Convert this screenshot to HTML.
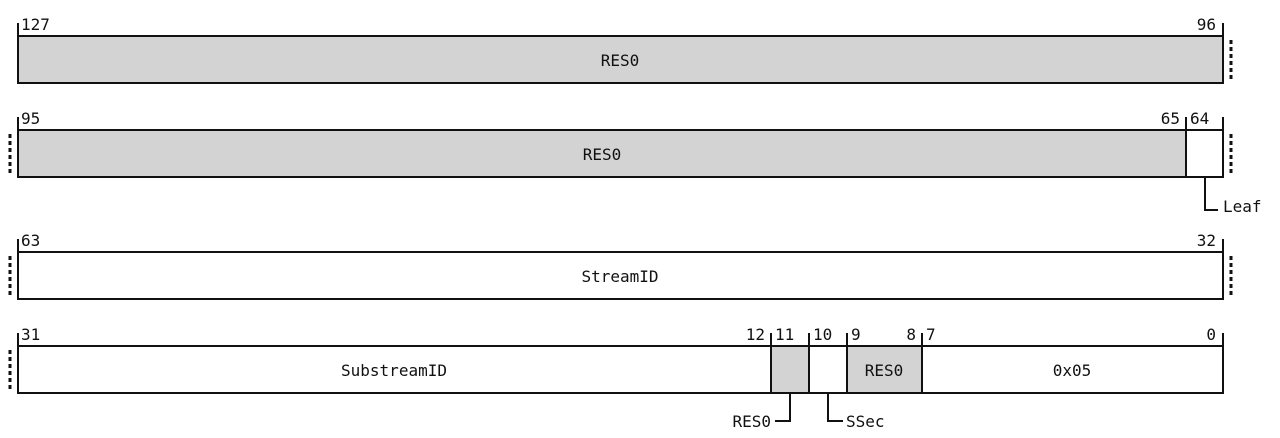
<!DOCTYPE html>
<html><head><meta charset="utf-8"><style>
html,body{margin:0;padding:0;background:#fff;}
svg{display:block;}
text{font-family:"DejaVu Sans Mono","Liberation Mono",monospace;font-size:16px;fill:#111;}
</style></head><body>
<svg width="1280" height="438" viewBox="0 0 1280 438" xmlns="http://www.w3.org/2000/svg">
<g stroke="#111" stroke-width="2" fill="none">
<!-- row1 -->
<rect x="18" y="36" width="1205" height="47" fill="#d3d3d3"/>
<line x1="18" y1="23" x2="18" y2="36"/><line x1="1223" y1="23" x2="1223" y2="36"/>
<!-- row2 -->
<rect x="18" y="130" width="1168" height="47" fill="#d3d3d3"/>
<rect x="1186" y="130" width="37" height="47" fill="#fff"/>
<line x1="18" y1="117" x2="18" y2="130"/><line x1="1186" y1="117" x2="1186" y2="130"/><line x1="1223" y1="117" x2="1223" y2="130"/>
<polyline points="1205,177 1205,210 1218,210"/>
<!-- row3 -->
<rect x="18" y="252" width="1205" height="47" fill="#fff"/>
<line x1="18" y1="239" x2="18" y2="252"/><line x1="1223" y1="239" x2="1223" y2="252"/>
<!-- row4 -->
<rect x="18" y="346" width="1205" height="47" fill="#fff"/>
<rect x="771" y="346" width="38" height="47" fill="#d3d3d3"/>
<rect x="847" y="346" width="75" height="47" fill="#d3d3d3"/>
<line x1="809" y1="346" x2="809" y2="393"/>
<line x1="18" y1="333" x2="18" y2="346"/><line x1="771" y1="333" x2="771" y2="346"/><line x1="809" y1="333" x2="809" y2="346"/><line x1="847" y1="333" x2="847" y2="346"/><line x1="922" y1="333" x2="922" y2="346"/><line x1="1223" y1="333" x2="1223" y2="346"/>
<polyline points="790,393 790,421 775,421"/>
<polyline points="828,393 828,421 843,421"/>
</g>
<g stroke="#111" stroke-width="3" stroke-dasharray="4 3">
<line x1="1231" y1="40" x2="1231" y2="80"/>
<line x1="10" y1="134" x2="10" y2="174"/><line x1="1231" y1="134" x2="1231" y2="174"/>
<line x1="10" y1="256" x2="10" y2="296"/><line x1="1231" y1="256" x2="1231" y2="296"/>
<line x1="10" y1="350" x2="10" y2="390"/>
</g>
<text x="21" y="30">127</text><text x="1216" y="30" text-anchor="end">96</text>
<text x="620" y="66" text-anchor="middle">RES0</text>
<text x="21" y="124">95</text><text x="1180" y="124" text-anchor="end">65</text><text x="1190" y="124">64</text>
<text x="602" y="160" text-anchor="middle">RES0</text>
<text x="1223" y="212">Leaf</text>
<text x="21" y="246">63</text><text x="1216" y="246" text-anchor="end">32</text>
<text x="620" y="282" text-anchor="middle">StreamID</text>
<text x="21" y="340">31</text><text x="765" y="340" text-anchor="end">12</text><text x="775" y="340">11</text><text x="813" y="340">10</text><text x="851" y="340">9</text><text x="916" y="340" text-anchor="end">8</text><text x="926" y="340">7</text><text x="1216" y="340" text-anchor="end">0</text>
<text x="394" y="376" text-anchor="middle">SubstreamID</text>
<text x="884" y="376" text-anchor="middle">RES0</text>
<text x="1072" y="376" text-anchor="middle">0x05</text>
<text x="771" y="427" text-anchor="end">RES0</text>
<text x="846" y="427">SSec</text>
</svg>
</body></html>
